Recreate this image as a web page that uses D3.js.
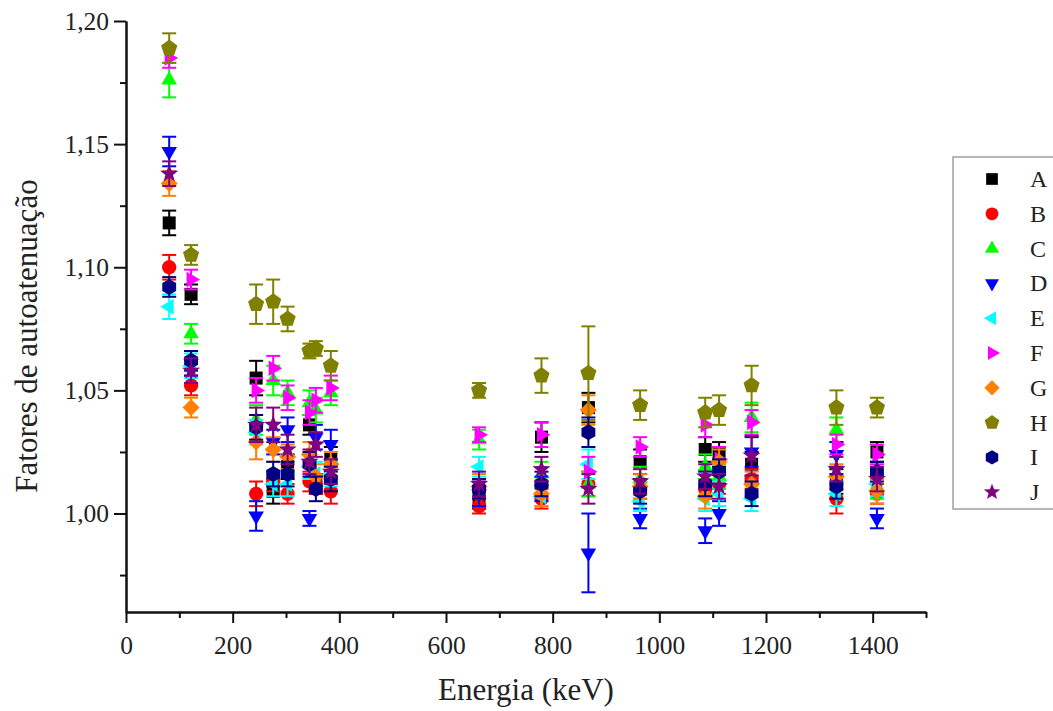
<!DOCTYPE html>
<html>
<head>
<meta charset="utf-8">
<script src="https://cdn.jsdelivr.net/npm/d3@7"></script>
<style>
html,body{margin:0;padding:0;background:#fff;}
svg{display:block;}
</style>
</head>
<body>
<svg id="chart" width="1053" height="711"></svg>
<script>
const energies = [81, 122, 244, 276, 303, 344, 356, 384, 662, 779, 867, 964, 1086, 1112, 1173, 1332, 1408];
const seriesNames = ["A","B","C","D","E","F","G","H","I","J"];
const valA = [1.118, 1.089, 1.055, 1.009, 1.019, 1.036, 1.012, 1.022, 1.006, 1.031, 1.043, 1.021, 1.026, 1.024, 1.020, 1.013, 1.025];
const valB = [1.100, 1.052, 1.008, 1.013, 1.008, 1.013, 1.012, 1.009, 1.003, 1.006, 1.012, 1.010, 1.010, 1.012, 1.014, 1.006, 1.008];
const valC = [1.176, 1.073, 1.038, 1.054, 1.049, 1.045, 1.042, 1.049, 1.030, 1.016, 1.012, 1.014, 1.019, 1.015, 1.039, 1.034, 1.011];
const valD = [1.147, 1.061, 0.999, 1.029, 1.034, 0.998, 1.031, 1.028, 1.008, 1.010, 0.984, 0.998, 0.993, 1.000, 1.025, 1.024, 0.998];
const valE = [1.084, 1.060, 1.033, 1.012, 1.012, 1.019, 1.016, 1.016, 1.019, 1.007, 1.020, 1.005, 1.006, 1.008, 1.006, 1.008, 1.012];
const valF = [1.185, 1.095, 1.050, 1.059, 1.047, 1.041, 1.046, 1.051, 1.032, 1.032, 1.017, 1.027, 1.036, 1.022, 1.037, 1.028, 1.024];
const valG = [1.134, 1.043, 1.029, 1.026, 1.023, 1.024, 1.015, 1.020, 1.011, 1.008, 1.042, 1.011, 1.007, 1.021, 1.012, 1.015, 1.009];
const valH = [1.189, 1.105, 1.085, 1.086, 1.079, 1.066, 1.067, 1.060, 1.050, 1.056, 1.057, 1.044, 1.041, 1.042, 1.052, 1.043, 1.043];
const valI = [1.092, 1.062, 1.035, 1.016, 1.016, 1.020, 1.010, 1.014, 1.010, 1.012, 1.033, 1.009, 1.012, 1.017, 1.008, 1.011, 1.017];
const valJ = [1.138, 1.058, 1.036, 1.036, 1.026, 1.021, 1.028, 1.017, 1.012, 1.018, 1.010, 1.013, 1.015, 1.011, 1.0235, 1.018, 1.014];

const errA = [0.005, 0.004, 0.007, 0.005, 0.005, 0.004, 0.004, 0.005, 0.004, 0.006, 0.006, 0.005, 0.005, 0.005, 0.005, 0.005, 0.004];
const errB = [0.005, 0.004, 0.005, 0.004, 0.004, 0.004, 0.004, 0.005, 0.003, 0.004, 0.005, 0.004, 0.004, 0.004, 0.004, 0.006, 0.004];
const errC = [0.007, 0.004, 0.006, 0.006, 0.005, 0.005, 0.005, 0.005, 0.004, 0.005, 0.005, 0.005, 0.005, 0.005, 0.006, 0.005, 0.005];
const errD = [0.006, 0.005, 0.006, 0.005, 0.005, 0.003, 0.005, 0.006, 0.005, 0.005, 0.016, 0.004, 0.005, 0.005, 0.006, 0.005, 0.004];
const errE = [0.005, 0.005, 0.005, 0.005, 0.005, 0.005, 0.005, 0.005, 0.004, 0.004, 0.006, 0.004, 0.005, 0.005, 0.005, 0.005, 0.005];
const errF = [0.004, 0.004, 0.005, 0.005, 0.005, 0.005, 0.005, 0.005, 0.003, 0.005, 0.006, 0.004, 0.005, 0.005, 0.005, 0.004, 0.004];
const errG = [0.005, 0.004, 0.007, 0.005, 0.005, 0.005, 0.005, 0.005, 0.005, 0.005, 0.006, 0.005, 0.005, 0.005, 0.005, 0.005, 0.005];
const errH = [0.006, 0.004, 0.008, 0.009, 0.005, 0.003, 0.003, 0.006, 0.003, 0.007, 0.019, 0.006, 0.006, 0.006, 0.008, 0.007, 0.004];
const errI = [0.004, 0.004, 0.005, 0.005, 0.005, 0.005, 0.005, 0.005, 0.004, 0.005, 0.006, 0.005, 0.005, 0.005, 0.005, 0.005, 0.004];
const errJ = [0.005, 0.005, 0.007, 0.007, 0.006, 0.005, 0.005, 0.005, 0.005, 0.005, 0.006, 0.005, 0.005, 0.005, 0.008, 0.005, 0.005];

const colors = ["#000000","#ff0000","#00ff00","#0000ff","#00ffff","#ff00ff","#ff8000","#808000","#000080","#800080"];
const shapes = ["square","circle","triUp","triDown","triLeft","triRight","diamond","pentagon","hexagon","star"];
const xTicks = [0, 200, 400, 600, 800, 1000, 1200, 1400];
const yTicks = [1.00, 1.05, 1.10, 1.15, 1.20];

const values = [valA,valB,valC,valD,valE,valF,valG,valH,valI,valJ];
const errors = [errA,errB,errC,errD,errE,errF,errG,errH,errI,errJ];

const FONT = "Liberation Serif";

const svg = d3.select("#chart");
const m = {left:126, right:926, top:21, bottom:612};
const x = d3.scaleLinear().domain([0,1500]).range([m.left, m.right]);
const y = d3.scaleLinear().domain([0.96,1.20]).range([m.bottom, m.top]);

function polyPath(n, r, rot){
  const pts=[];
  for(let i=0;i<n;i++){
    const a = rot + i*2*Math.PI/n;
    pts.push([r*Math.cos(a), r*Math.sin(a)]);
  }
  return "M"+pts.map(p=>p[0].toFixed(2)+","+p[1].toFixed(2)).join("L")+"Z";
}
function starPath(r){
  const pts=[];
  for(let i=0;i<10;i++){
    const rr = i%2===0 ? r : r*0.42;
    const a = -Math.PI/2 + i*Math.PI/5;
    pts.push([rr*Math.cos(a), rr*Math.sin(a)]);
  }
  return "M"+pts.map(p=>p[0].toFixed(2)+","+p[1].toFixed(2)).join("L")+"Z";
}
function shapePath(s){
  switch(s){
    case "square": return "M-6.5,-6.5H6.5V6.5H-6.5Z";
    case "circle": return d3.symbol(d3.symbolCircle, 160)();
    case "triUp": return polyPath(3, 9, -Math.PI/2);
    case "triDown": return polyPath(3, 9, Math.PI/2);
    case "triLeft": return polyPath(3, 9, Math.PI);
    case "triRight": return polyPath(3, 9, 0);
    case "diamond": return polyPath(4, 8.5, -Math.PI/2);
    case "pentagon": return polyPath(5, 8.5, -Math.PI/2);
    case "hexagon": return polyPath(6, 8, -Math.PI/2);
    case "star": return starPath(9.5);
  }
}

// axes
const xAxis = d3.axisBottom(x).tickValues(xTicks).tickSize(11).tickSizeOuter(0).tickPadding(13).tickFormat(d3.format("d"));
const xMinor = d3.axisBottom(x).tickValues(d3.range(100,1501,200)).tickSize(6).tickSizeOuter(0).tickFormat("");
const yAxis = d3.axisLeft(y).tickValues(yTicks).tickSize(12).tickSizeOuter(0).tickPadding(5).tickFormat(d=>d3.format(".2f")(d).replace(".",","));
const yMinor = d3.axisLeft(y).tickValues([0.975,1.025,1.075,1.125,1.175]).tickSize(6).tickSizeOuter(0).tickFormat("");

function styleAxis(g){
  g.attr("font-family", FONT);
  g.selectAll(".domain").attr("stroke","#111").attr("stroke-width",2);
  g.selectAll(".tick line").attr("stroke","#111").attr("stroke-width",2);
  g.selectAll(".tick text").attr("font-family", FONT).attr("font-size", 25.5).attr("fill","#222");
}
svg.append("g").attr("transform",`translate(0,${m.bottom})`).call(xMinor).call(styleAxis);
svg.append("g").attr("transform",`translate(0,${m.bottom})`).call(xAxis).call(styleAxis);
svg.append("g").attr("transform",`translate(${m.left},0)`).call(yMinor).call(styleAxis);
svg.append("g").attr("transform",`translate(${m.left},0)`).call(yAxis).call(styleAxis);

// axis titles
svg.append("text").attr("x",(m.left+m.right)/2).attr("y",700).attr("text-anchor","middle")
  .attr("font-family", FONT).attr("font-size",31).attr("fill","#222").text("Energia (keV)");
svg.append("text").attr("transform",`translate(37,336) rotate(-90)`).attr("text-anchor","middle")
  .attr("font-family", FONT).attr("font-size",31).attr("fill","#222").text("Fatores de autoatenuação");

// data
const plot = svg.append("g");
seriesNames.forEach((name, si)=>{
  const g = plot.append("g").attr("class","series-"+name);
  const pts = energies.map((e,i)=>({e, v:values[si][i], err:errors[si][i]}));
  const eb = g.selectAll(".eb").data(pts).enter().append("g").attr("class","eb");
  eb.append("line").attr("x1",d=>x(d.e)).attr("x2",d=>x(d.e)).attr("y1",d=>y(d.v-d.err)).attr("y2",d=>y(d.v+d.err))
    .attr("stroke",colors[si]).attr("stroke-width",2);
  eb.append("line").attr("x1",d=>x(d.e)-7).attr("x2",d=>x(d.e)+7).attr("y1",d=>y(d.v+d.err)).attr("y2",d=>y(d.v+d.err))
    .attr("stroke",colors[si]).attr("stroke-width",2);
  eb.append("line").attr("x1",d=>x(d.e)-7).attr("x2",d=>x(d.e)+7).attr("y1",d=>y(d.v-d.err)).attr("y2",d=>y(d.v-d.err))
    .attr("stroke",colors[si]).attr("stroke-width",2);
  g.selectAll(".pt").data(pts).enter().append("path").attr("class","pt")
    .attr("d", shapePath(shapes[si]))
    .attr("transform",d=>`translate(${x(d.e)},${y(d.v)})`)
    .attr("fill",colors[si]);
});

// legend
const leg = svg.append("g").attr("transform","translate(953,157)");
leg.append("rect").attr("x",0).attr("y",0).attr("width",120).attr("height",352)
  .attr("fill","#fff").attr("stroke","#888").attr("stroke-width",1.2);
seriesNames.forEach((name, si)=>{
  const yy = 22 + si*34.8;
  leg.append("path").attr("d", shapePath(shapes[si])).attr("transform",`translate(39,${yy}) scale(0.9)`).attr("fill",colors[si]);
  leg.append("text").attr("x",77).attr("y",yy+8).attr("font-family", FONT).attr("font-size",24).attr("fill","#222").text(name);
});
</script>
</body>
</html>
